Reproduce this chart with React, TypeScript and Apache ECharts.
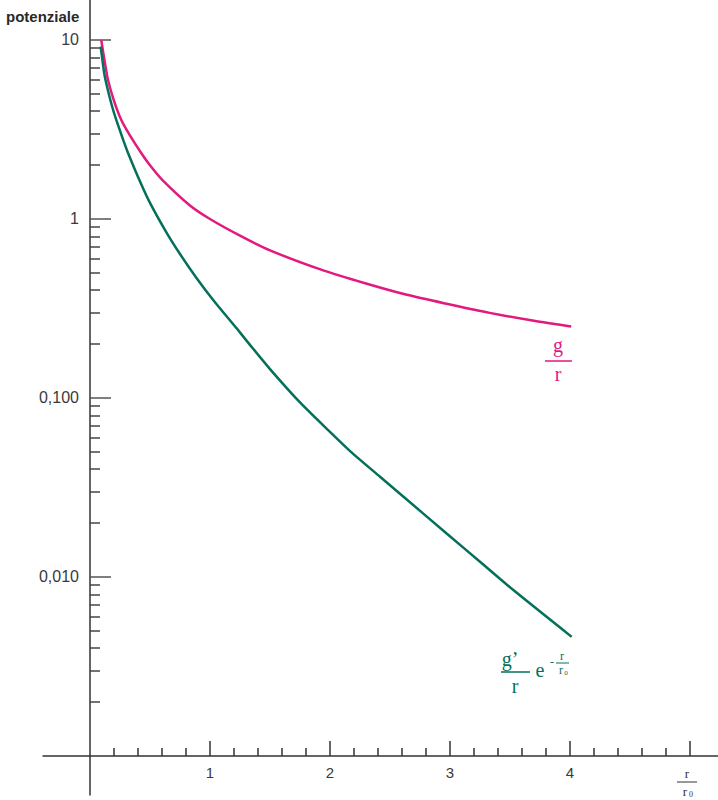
import React, { useEffect, useRef } from "react";
import * as echarts from "echarts";

// g / r  (pink)
const pinkR = [0.094, 0.11, 0.13, 0.15, 0.2, 0.261, 0.33, 0.428, 0.5, 0.6, 0.833, 1.0, 1.25, 1.5, 1.944, 2.3, 2.64, 3.0, 3.33, 3.7, 4.01];
const pinkV = [10, 8.51, 7.08, 5.98, 4.57, 3.57, 2.95, 2.33, 1.995, 1.66, 1.19, 1.0, 0.807, 0.668, 0.516, 0.436, 0.377, 0.333, 0.299, 0.27, 0.251];

// g'/r e^(-r/r0)  (green)
const greenR = [0.089, 0.105, 0.122, 0.16, 0.206, 0.278, 0.317, 0.417, 0.5, 0.639, 0.75, 0.889, 1.028, 1.222, 1.333, 1.5, 1.75, 2.0, 2.167, 2.417, 2.583, 2.972, 3.25, 3.528, 4.014];
const greenV = [9.2, 7.59, 6.31, 4.9, 3.8, 2.75, 2.34, 1.62, 1.23, 0.836, 0.637, 0.467, 0.352, 0.245, 0.198, 0.145, 0.0944, 0.0646, 0.0505, 0.0363, 0.0292, 0.0175, 0.01216, 0.00845, 0.00463];

const xMajorTicks = [1, 2, 3, 4, 5];
const xLabelValues = [1, 2, 3, 4];
const xMinorTicks = [0.2, 0.4, 0.6, 0.8, 1.2, 1.4, 1.6, 1.8, 2.2, 2.4, 2.6, 2.8, 3.2, 3.4, 3.6, 3.8, 4.2, 4.4, 4.6, 4.8];

const yMajorTicks = [10, 1, 0.1, 0.01];
const yTickLabels = ["10", "1", "0,100", "0,010"];
const yMinorTicks = [
  9, 8, 7, 6, 5, 4, 3, 2,
  0.9, 0.8, 0.7, 0.6, 0.5, 0.4, 0.3, 0.2,
  0.09, 0.08, 0.07, 0.06, 0.05, 0.04, 0.03, 0.02,
  0.009, 0.008, 0.007, 0.006, 0.005, 0.004, 0.003, 0.002,
];

const PINK = "#e2197e";
const GREEN = "#04705a";
const AXIS = "#333333";

const X_MIN = -47 / 120;
const X_MAX = 628 / 120;
const Y_MIN = Math.pow(10, -3.21788);
const Y_MAX = Math.pow(10, 1.22346);

export default function App() {
  const ref = useRef<HTMLDivElement>(null);
  useEffect(() => {
    if (!ref.current) return;
    const chart = echarts.init(ref.current, null, { renderer: "svg" });
    const serif = '"Liberation Serif", "DejaVu Serif", serif';
    const sans = '"Liberation Sans", Arial, sans-serif';
    const yLabel = (v: number) => {
      for (let i = 0; i < yMajorTicks.length; i++) {
        if (Math.abs(v - yMajorTicks[i]) / yMajorTicks[i] < 1e-6) return yTickLabels[i];
      }
      return "";
    };
    const xBase = {
      type: "value",
      min: X_MIN,
      max: X_MAX,
      position: "bottom",
      offset: -39,
      splitLine: { show: false },
    };
    const yBase = {
      type: "log",
      logBase: 10,
      min: Y_MIN,
      max: Y_MAX,
      position: "left",
      offset: -47,
      splitLine: { show: false },
      minorTick: { show: false },
    };
    const lineSeries = (xs: number[], ys: number[], color: string) => ({
      type: "line",
      xAxisIndex: 0,
      yAxisIndex: 0,
      data: xs.map((r, i) => [r, ys[i]]),
      showSymbol: false,
      smooth: 0.25,
      lineStyle: { color, width: 2.5 },
      itemStyle: { color },
    });
    chart.setOption({
      animation: false,
      backgroundColor: "#ffffff",
      grid: { left: 43, right: 0, top: 0, bottom: 5, containLabel: false },
      xAxis: [
        {
          ...xBase,
          axisLine: { show: true, onZero: false, lineStyle: { color: AXIS, width: 1.5 } },
          axisTick: { show: true, inside: true, length: 15, customValues: xMajorTicks, lineStyle: { color: AXIS, width: 1.5 } },
          axisLabel: {
            show: true,
            customValues: xLabelValues,
            margin: 9,
            color: "#3a3a3a",
            fontSize: 15,
            fontFamily: sans,
            formatter: (v: number) => String(v),
          },
        },
        {
          ...xBase,
          axisLine: { show: false, onZero: false },
          axisTick: { show: true, inside: true, length: 8, customValues: xMinorTicks, lineStyle: { color: AXIS, width: 1.5 } },
          axisLabel: { show: false },
        },
      ],
      yAxis: [
        {
          ...yBase,
          axisLine: { show: true, onZero: false, lineStyle: { color: AXIS, width: 1.5 } },
          axisTick: { show: true, inside: true, length: 21, customValues: yMajorTicks, lineStyle: { color: "#555", width: 1.5 } },
          axisLabel: {
            show: true,
            customValues: yMajorTicks,
            margin: 11,
            color: "#3a3a3a",
            fontSize: 16,
            fontFamily: sans,
            formatter: yLabel,
          },
        },
        {
          ...yBase,
          axisLine: { show: false, onZero: false },
          axisTick: { show: true, inside: true, length: 10, customValues: yMinorTicks, lineStyle: { color: "#444", width: 1.5 } },
          axisLabel: { show: false },
        },
      ],
      series: [lineSeries(pinkR, pinkV, PINK), lineSeries(greenR, greenV, GREEN)],
      graphic: [
        {
          type: "text",
          x: 6,
          y: 16,
          style: { text: "potenziale", font: `bold 15px ${sans}`, fill: "#2a2a2a", textVerticalAlign: "middle" },
        },
        // g / r label
        { type: "text", x: 558, y: 345, style: { text: "g", font: `20px ${serif}`, fill: PINK, textAlign: "center", textVerticalAlign: "middle" } },
        { type: "line", shape: { x1: 545, y1: 361, x2: 572, y2: 361 }, style: { stroke: PINK, lineWidth: 1.5 } },
        { type: "text", x: 558, y: 374, style: { text: "r", font: `20px ${serif}`, fill: PINK, textAlign: "center", textVerticalAlign: "middle" } },
        // g'/r e^{-r/r0} label
        { type: "text", x: 510, y: 659, style: { text: "g’", font: `20px ${serif}`, fill: GREEN, textAlign: "center", textVerticalAlign: "middle" } },
        { type: "line", shape: { x1: 501, y1: 672, x2: 530, y2: 672 }, style: { stroke: GREEN, lineWidth: 1.5 } },
        { type: "text", x: 515, y: 686, style: { text: "r", font: `20px ${serif}`, fill: GREEN, textAlign: "center", textVerticalAlign: "middle" } },
        { type: "text", x: 540, y: 670, style: { text: "e", font: `20px ${serif}`, fill: GREEN, textAlign: "center", textVerticalAlign: "middle" } },
        { type: "text", x: 552, y: 662, style: { text: "-", font: `12px ${serif}`, fill: GREEN, textAlign: "center", textVerticalAlign: "middle" } },
        { type: "text", x: 562, y: 656, style: { text: "r", font: `12px ${serif}`, fill: GREEN, textAlign: "center", textVerticalAlign: "middle" } },
        { type: "line", shape: { x1: 556, y1: 663, x2: 569, y2: 663 }, style: { stroke: GREEN, lineWidth: 1 } },
        { type: "text", x: 561, y: 670, style: { text: "r", font: `12px ${serif}`, fill: GREEN, textAlign: "center", textVerticalAlign: "middle" } },
        { type: "text", x: 566, y: 673, style: { text: "0", font: `7px ${serif}`, fill: GREEN, textAlign: "center", textVerticalAlign: "middle" } },
        // r / r0 axis name
        { type: "text", x: 687, y: 773, style: { text: "r", font: `13px ${serif}`, fill: "#333", textAlign: "center", textVerticalAlign: "middle" } },
        { type: "line", shape: { x1: 677, y1: 782, x2: 697, y2: 782 }, style: { stroke: "#333", lineWidth: 1 } },
        { type: "text", x: 685, y: 791, style: { text: "r", font: `13px ${serif}`, fill: "#333", textAlign: "center", textVerticalAlign: "middle" } },
        { type: "text", x: 691, y: 794, style: { text: "0", font: `8px ${serif}`, fill: "#333", textAlign: "center", textVerticalAlign: "middle" } },
      ],
    });
    return () => chart.dispose();
  }, []);
  return (
    <div
      ref={ref}
      style={{ position: "fixed", left: 0, top: 0, width: 718, height: 800, background: "#fff" }}
    />
  );
}
